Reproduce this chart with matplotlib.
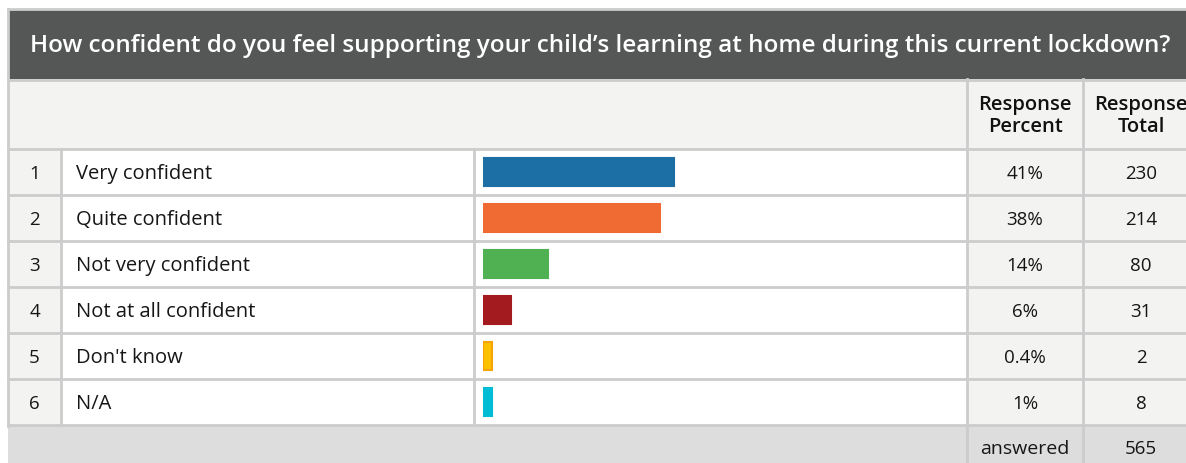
import matplotlib
matplotlib.use("Agg")
import matplotlib.pyplot as plt
from matplotlib.patches import Rectangle

# Survey data
question = "How confident do you feel supporting your child\u2019s learning at home during this current lockdown?"
row_numbers = ["1", "2", "3", "4", "5", "6"]
answers = ["Very confident", "Quite confident", "Not very confident",
           "Not at all confident", "Don't know", "N/A"]
percent_values = [41, 38, 14, 6, 0.4, 1]
percent_labels = ["41%", "38%", "14%", "6%", "0.4%", "1%"]
response_totals = [230, 214, 80, 31, 2, 8]
answered_total = 565
col_headers = ["Response\nPercent", "Response\nTotal"]

bar_colors = ["#1c6fa5", "#f06a33", "#4fb152", "#a31b1e", "#ffc000", "#00bcd4"]
bar_edges = ["#1c6fa5", "#f06a33", "#4fb152", "#a31b1e", "#f7a400", "#00bcd4"]

W, H = 1186, 463
plt.rcParams["font.family"] = ["Open Sans", "DejaVu Sans"]

fig = plt.figure(figsize=(W / 100, H / 100), dpi=100)
fig.patch.set_facecolor("white")

# Background axes in pixel units for the table frame
ax = fig.add_axes([0, 0, 1, 1])
ax.set_xlim(0, W)
ax.set_ylim(H, 0)
ax.axis("off")

grid = "#cccccc"
light = "#f3f3f1"
dark = "#555756"
footer = "#dddddd"

left, right = 8, 1199
top = 9
head_bot = 79
colhead_bot = 149
row_h = 46
n = len(answers)
rows_bot = colhead_bot + n * row_h
x_num, x_lab, x_bar, x_pct, x_tot = 8, 61, 474, 967, 1083

def rect(x0, y0, x1, y1, fc, z=0):
    ax.add_patch(Rectangle((x0, y0), x1 - x0, y1 - y0, facecolor=fc,
                           edgecolor="none", zorder=z))

# Title band
rect(left, top, right, head_bot, dark)
ax.text(30, (top + head_bot) / 2 + 2, question, color="white", fontsize=17.5,
        fontweight="semibold", va="center", ha="left", zorder=3)

# Column-header band
rect(left, head_bot, right, colhead_bot, light)
# Body cells
rect(x_num, colhead_bot, x_lab, rows_bot, light)
rect(x_lab, colhead_bot, x_pct, rows_bot, "white")
rect(x_pct, colhead_bot, right, rows_bot, light)
# Footer
rect(left, rows_bot, right, H + 5, footer)

lw = 2.0
# Horizontal grid lines
ax.plot([left, right], [top, top], color=grid, lw=lw, zorder=2)
ax.plot([left, right], [head_bot + 0.5, head_bot + 0.5], color=grid, lw=lw, zorder=2)
for i in range(n + 1):
    y = colhead_bot + i * row_h
    ax.plot([left, right], [y, y], color=grid, lw=lw, zorder=2)
# Vertical grid lines
ax.plot([left, left], [top, rows_bot + 1], color=grid, lw=lw, zorder=2)
for x in (x_lab, x_bar):
    ax.plot([x, x], [colhead_bot, rows_bot], color=grid, lw=lw, zorder=2)
for x in (x_pct, x_tot):
    ax.plot([x, x], [head_bot, H + 5], color=grid, lw=lw, zorder=2)

# Column headers
for xc, txt in zip(((x_pct + x_tot) / 2, x_tot + 58), col_headers):
    ax.text(xc, (head_bot + colhead_bot) / 2 + 2, txt, ha="center", va="center",
            fontsize=14.5, fontweight="semibold", color="#111111", linespacing=1.1, zorder=3)

text_color = "#161616"
fs_lab = 14.5
fs_num = 13.5
dy = 2
for i in range(n):
    yc = colhead_bot + (i + 0.5) * row_h + dy
    ax.text((x_num + x_lab) / 2, yc, row_numbers[i], ha="center", va="center",
            fontsize=fs_num, color=text_color, zorder=3)
    ax.text(76, yc, answers[i], ha="left", va="center", fontsize=fs_lab,
            color=text_color, zorder=3)
    ax.text((x_pct + x_tot) / 2, yc, percent_labels[i], ha="center", va="center",
            fontsize=fs_num, color=text_color, zorder=3)
    ax.text(x_tot + 58, yc, str(response_totals[i]), ha="center", va="center",
            fontsize=fs_num, color=text_color, zorder=3)

yf = (rows_bot + H) / 2 + 5
ax.text((x_pct + x_tot) / 2, yf, "answered", ha="center", va="center",
        fontsize=fs_num + 0.5, color=text_color, zorder=3)
ax.text(x_tot + 58, yf, str(answered_total), ha="center", va="center",
        fontsize=fs_num, color=text_color, zorder=3)

# Bar axes placed over the bar column (0-100 % scale)
bar_x0 = 483
bar_span = 465
bax = fig.add_axes([bar_x0 / W, 1 - rows_bot / H, bar_span / W, (n * row_h) / H])
bax.set_xlim(0, 100)
bax.set_ylim(n - 0.5, -0.5)
bax.axis("off")
bax.patch.set_alpha(0)
min_visible = 1.9
shown = [max(v, min_visible) for v in percent_values]
bax.barh(range(n), shown, height=28 / row_h, color=bar_colors,
         edgecolor=bar_edges, linewidth=1.5, left=0)

fig.savefig("out.png", dpi=100, facecolor="white")
